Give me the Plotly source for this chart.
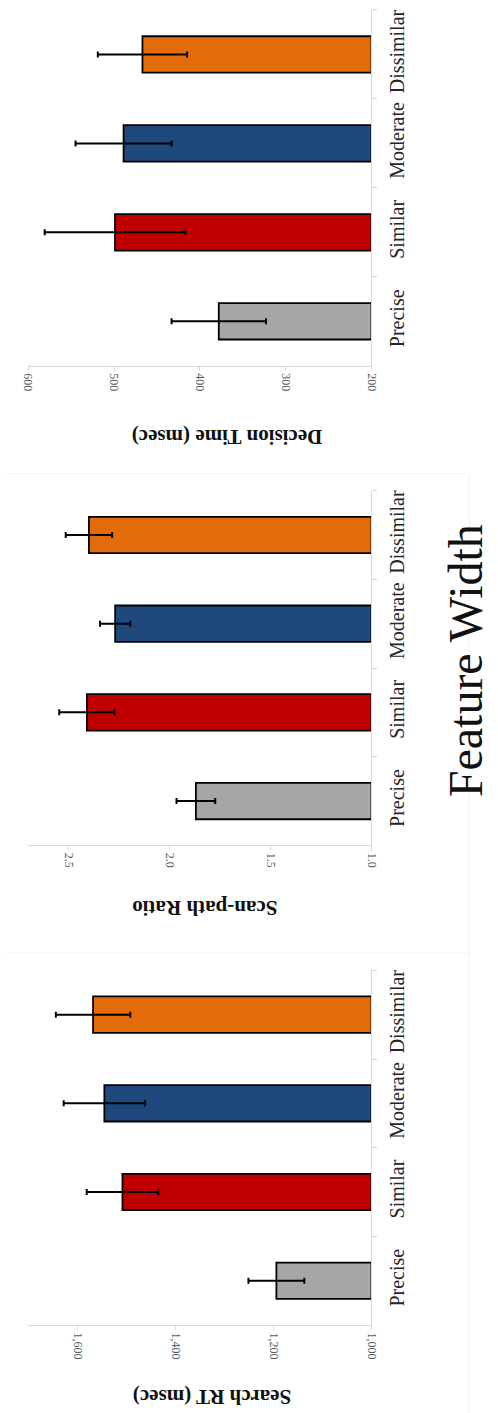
import plotly.graph_objects as go

# Conditions (category axis) and bar colours
conditions = ["Precise", "Similar", "Moderate", "Dissimilar"]
bar_colors = ["#a6a6a6", "#c00000", "#1f497d", "#e36c0a"]

# Search RT (msec): means and error-bar half-lengths
search_rt = [1194, 1508, 1545, 1568]
search_rt_err = [57, 73, 83, 76]

# Scan-path ratio: means and error-bar half-lengths
scan_ratio = [1.87, 2.41, 2.27, 2.40]
scan_ratio_err = [0.096, 0.137, 0.075, 0.115]

# Decision time (msec): means and error-bar half-lengths
decision_time = [378, 499, 489, 467]
decision_time_err = [55, 82, 56, 52]

W, H = 498, 1413
SERIF = "Liberation Serif, Times New Roman, serif"

panels = [
    dict(vals=decision_time, err=decision_time_err, lo=200, hi=600, dtick=100, fmt="d",
         title="Decision Time (msec)", top=9, bottom=365, tx=226, ty=437),
    dict(vals=scan_ratio, err=scan_ratio_err, lo=1.0, hi=2.7, dtick=0.5, fmt=".1f",
         title="Scan-path Ratio", top=490, bottom=845, tx=204, ty=907),
    dict(vals=search_rt, err=search_rt_err, lo=1000, hi=1700, dtick=200, fmt=",d",
         title="Search RT (msec)", top=970, bottom=1325, tx=211, ty=1397),
]

x_left, x_right = 22, 375

fig = go.Figure()
annotations = []
for i, p in enumerate(panels, start=1):
    xa = "x" if i == 1 else f"x{i}"
    ya = "y" if i == 1 else f"y{i}"
    # bars start at the axis base value
    fig.add_trace(go.Bar(
        x=[v - p["lo"] for v in p["vals"]], y=conditions, base=p["lo"],
        orientation="h", width=0.41,
        marker=dict(color=bar_colors, line=dict(color="black", width=1.8)),
        xaxis=xa, yaxis=ya, showlegend=False,
    ))
    fig.add_trace(go.Scatter(
        x=p["vals"], y=conditions, mode="markers",
        marker=dict(size=1, opacity=0),
        error_x=dict(type="data", array=p["err"], color="black", thickness=2, width=3),
        xaxis=xa, yaxis=ya, showlegend=False,
    ))
    xkey = "xaxis" if i == 1 else f"xaxis{i}"
    ykey = "yaxis" if i == 1 else f"yaxis{i}"
    fig.layout[xkey] = dict(
        domain=[x_left / W, x_right / W], anchor=ya,
        range=[p["hi"], p["lo"]], dtick=p["dtick"], tick0=p["lo"], tickformat=p["fmt"],
        tickangle=90, showgrid=False, zeroline=False,
        showline=True, linecolor="#d9d9d9", linewidth=1,
        ticks="outside", ticklen=4, tickcolor="#d9d9d9",
        tickfont=dict(family=SERIF, size=12, color="#595959"),
        fixedrange=True,
    )
    fig.layout[ykey] = dict(
        domain=[1 - p["bottom"] / H, 1 - p["top"] / H], anchor=xa, side="right",
        categoryorder="array", categoryarray=conditions, range=[-0.5, 3.5],
        tickangle=-90, showgrid=False, zeroline=False,
        showline=True, linecolor="#d9d9d9", linewidth=1,
        ticks="outside", ticklen=5, tickcolor="#d9d9d9", tickson="boundaries",
        ticklabelstandoff=8,
        tickfont=dict(family=SERIF, size=20, color="#262626"),
        fixedrange=True,
    )
    annotations.append(dict(
        text=f"<b>{p['title']}</b>", x=p["tx"] / W, y=1 - p["ty"] / H,
        xref="paper", yref="paper", showarrow=False, textangle=180,
        xanchor="center", yanchor="middle",
        font=dict(family=SERIF, size=21, color="#111111"),
    ))

annotations.append(dict(
    text="Feature Width", x=472 / W, y=1 - 660 / H, xref="paper", yref="paper",
    showarrow=False, textangle=-90, xanchor="center", yanchor="middle",
    font=dict(family=SERIF, size=48, color="#111111"),
))

# faint panel frame lines
shapes = [
    dict(type="line", xref="paper", yref="paper", x0=0, x1=476 / W,
         y0=1 - 473 / H, y1=1 - 473 / H, line=dict(color="#f3f3f3", width=1)),
    dict(type="line", xref="paper", yref="paper", x0=0, x1=476 / W,
         y0=1 - 953 / H, y1=1 - 953 / H, line=dict(color="#f3f3f3", width=1)),
    dict(type="line", xref="paper", yref="paper", x0=476 / W, x1=476 / W,
         y0=0, y1=1 - 473 / H, line=dict(color="#f3f3f3", width=1)),
]

fig.update_layout(
    width=W, height=H, margin=dict(l=0, r=0, t=0, b=0),
    paper_bgcolor="white", plot_bgcolor="white",
    annotations=annotations, shapes=shapes, showlegend=False,
)

fig.write_html("out.html", config={"displayModeBar": False})
